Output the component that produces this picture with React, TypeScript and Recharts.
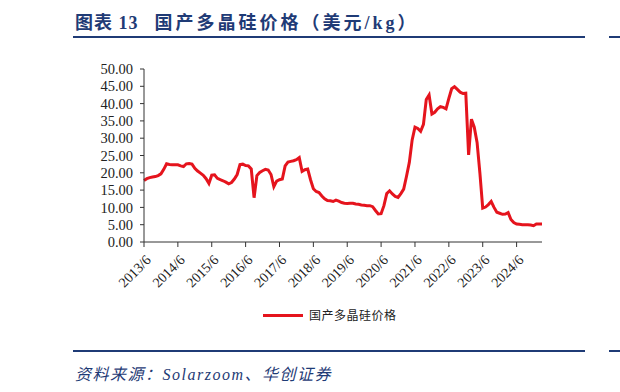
import { CartesianGrid, Line, LineChart, XAxis, YAxis } from "recharts";

// 国产多晶硅价格（美元/kg），月度，2013/6 起
const START_YEAR = 2013;
const START_MONTH = 6;

const prices = [
  17.8, 18.3, 18.6, 18.8, 18.9, 19.2, 19.7, 21.0, 22.6, 22.4, 22.3, 22.3,
  22.3, 22.0, 21.8, 22.6, 22.7, 22.5, 21.3, 20.5, 19.9, 19.3, 18.3, 16.9,
  19.3, 19.4, 18.4, 18.0, 17.7, 17.3, 16.8, 17.2, 18.2, 19.5, 22.4, 22.5,
  22.1, 22.0, 21.1, 12.8, 19.2, 20.1, 20.6, 21.0, 20.8, 19.5, 16.0, 17.6,
  18.0, 18.2, 22.0, 23.1, 23.3, 23.5, 23.8, 24.4, 20.4, 20.9, 21.1, 18.0,
  15.4, 14.6, 14.3, 13.3, 12.5, 12.0, 11.9, 11.7, 12.1, 11.8, 11.4, 11.2,
  11.1, 11.2, 11.2, 11.0, 10.9, 10.7, 10.6, 10.5, 10.5, 10.2, 9.1, 8.1,
  8.2, 10.5, 14.0, 14.8, 13.9, 13.2, 12.9, 14.0, 15.3, 19.0, 23.0, 29.5,
  33.2, 32.8, 32.0, 34.0, 41.2, 42.5, 37.0, 37.5, 38.5, 39.1, 38.9, 38.5,
  41.5, 44.3, 44.9, 44.1, 43.3, 42.9, 43.0, 25.2, 35.5, 33.2, 28.8, 19.9,
  9.8, 10.1, 10.8, 11.7, 10.0, 8.6, 8.3, 8.0, 8.1, 8.5, 6.5, 5.6,
  5.2, 5.1, 5.0, 5.0, 5.0, 4.9, 4.7, 5.2, 5.2, 5.2,
];

const months = prices.map((_, i) => {
  const total = START_MONTH - 1 + i;
  return `${START_YEAR + Math.floor(total / 12)}/${(total % 12) + 1}`;
});

const yTicks = [0, 5, 10, 15, 20, 25, 30, 35, 40, 45, 50];

const data = months.map((month, i) => ({ month, price: prices[i] }));

const SERIF = '"Liberation Serif", "Times New Roman", "Noto Sans CJK SC", serif';
const NAVY = "#1f3b76";

function MonthTick({ x, y, payload }: any) {
  const tx = x + 1;
  const ty = y + 5;
  return (
    <text
      x={tx}
      y={ty}
      transform={`rotate(-45, ${tx}, ${ty})`}
      textAnchor="end"
      dominantBaseline="hanging"
      fontFamily={SERIF}
      fontSize={14}
      fill="#222"
    >
      {payload.value}
    </text>
  );
}

export default function App() {
  return (
    <div
      style={{
        position: "absolute",
        left: 0,
        top: 0,
        width: 620,
        height: 392,
        background: "#fff",
        overflow: "hidden",
      }}
    >
      <div
        style={{
          position: "absolute",
          left: 75,
          top: 8,
          fontFamily: SERIF,
          fontWeight: "bold",
          fontSize: 18,
          color: NAVY,
          whiteSpace: "pre",
        }}
      >
        <span style={{ letterSpacing: 1 }}>图表 13</span>
        <span style={{ marginLeft: 16, letterSpacing: 3 }}>
          国产多晶硅价格（美元/kg）
        </span>
      </div>
      <div
        style={{
          position: "absolute",
          left: 73,
          top: 36,
          width: 512,
          height: 2,
          background: NAVY,
        }}
      />
      <div
        style={{
          position: "absolute",
          left: 609,
          top: 36,
          width: 11,
          height: 2,
          background: NAVY,
        }}
      />

      <div style={{ position: "absolute", left: 0, top: 0 }}>
        <LineChart
          width={620}
          height={392}
          data={data}
          margin={{ top: 69, right: 78, bottom: 100, left: 84 }}
        >
          <CartesianGrid horizontal={false} vertical={false} />
          <XAxis
            dataKey="month"
            interval={11}
            height={50}
            tickSize={5}
            axisLine={{ stroke: "#333" }}
            tickLine={{ stroke: "#333" }}
            tick={<MonthTick />}
          />
          <YAxis
            domain={[0, 50]}
            ticks={yTicks}
            width={60}
            tickSize={4}
            tickMargin={7}
            interval={0}
            axisLine={{ stroke: "#333" }}
            tickLine={{ stroke: "#333" }}
            tickFormatter={(v: number) => v.toFixed(2)}
            tick={{ fontFamily: SERIF, fontSize: 14.5, fill: "#222" }}
          />
          <Line
            type="linear"
            dataKey="price"
            name="国产多晶硅价格"
            stroke="#e5141d"
            strokeWidth={3}
            dot={false}
            isAnimationActive={false}
          />
        </LineChart>
      </div>

      <div
        style={{
          position: "absolute",
          left: 263,
          top: 306,
          display: "flex",
          alignItems: "center",
          fontFamily: SERIF,
          fontSize: 12,
          letterSpacing: 0.5,
          color: "#222",
        }}
      >
        <span
          style={{
            display: "inline-block",
            width: 40,
            height: 3,
            background: "#e5141d",
            marginRight: 6,
          }}
        />
        国产多晶硅价格
      </div>

      <div
        style={{
          position: "absolute",
          left: 73,
          top: 350,
          width: 512,
          height: 2,
          background: NAVY,
        }}
      />
      <div
        style={{
          position: "absolute",
          left: 609,
          top: 350,
          width: 11,
          height: 2,
          background: NAVY,
        }}
      />
      <div
        style={{
          position: "absolute",
          left: 75,
          top: 361,
          fontFamily: SERIF,
          fontStyle: "italic",
          fontSize: 16,
          letterSpacing: 1.5,
          color: NAVY,
        }}
      >
        资料来源：Solarzoom、华创证券
      </div>
    </div>
  );
}
